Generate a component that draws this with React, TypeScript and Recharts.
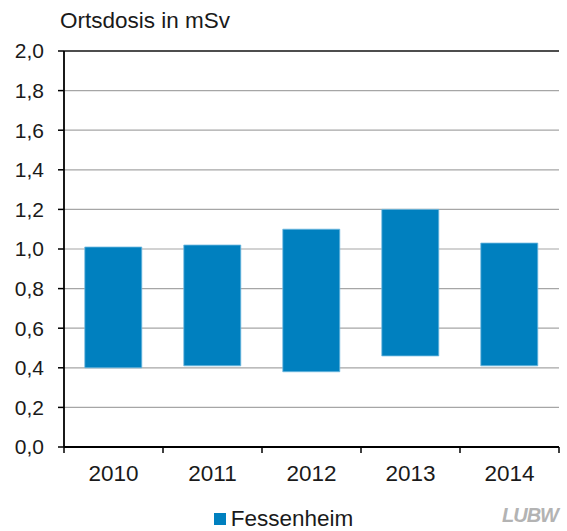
import React from 'react';
import {
  BarChart, Bar, XAxis, YAxis, CartesianGrid, Legend, ReferenceLine
} from 'recharts';

const YEARS = ['2010', '2011', '2012', '2013', '2014'];
const LOW_VALUES = [0.40, 0.41, 0.38, 0.46, 0.41];
const HIGH_VALUES = [1.01, 1.02, 1.10, 1.20, 1.03];
const Y_TICKS = [0, 0.2, 0.4, 0.6, 0.8, 1.0, 1.2, 1.4, 1.6, 1.8, 2.0];
const SERIES_NAME = 'Fessenheim';

const BAR_COLOR = '#0080bf';
const GRID_COLOR = '#a6a6a6';
const FONT = '"Liberation Sans", Arial, sans-serif';
const TEXT_COLOR = '#1a1a1a';

const X_TICK_SIZE = 6;
const X_TICK_MARGIN = 12;

const chartData = YEARS.map((year, i) => ({
  year,
  range: [LOW_VALUES[i], HIGH_VALUES[i]],
}));

const fmt = (v: number) => v.toFixed(1).replace('.', ',');

// category label plus the little tick marks between categories (Excel style)
function YearTick(props: any) {
  const { x, y, payload, index, width, visibleTicksCount } = props;
  const band = width / visibleTicksCount;
  const y2 = y - X_TICK_MARGIN;
  const y1 = y2 - X_TICK_SIZE;
  const left = x - band / 2;
  return (
    <g>
      <line x1={left} x2={left} y1={y1} y2={y2} stroke="#000" strokeWidth={1.5} />
      {index === visibleTicksCount - 1 && (
        <line x1={x + band / 2} x2={x + band / 2} y1={y1} y2={y2} stroke="#000" strokeWidth={1.5} />
      )}
      <text x={x} y={y} dy="0.71em" textAnchor="middle" fontSize={22.5} fill={TEXT_COLOR} fontFamily={FONT}>
        {payload.value}
      </text>
    </g>
  );
}

function LegendContent() {
  return (
    <div style={{ display: 'flex', justifyContent: 'center', alignItems: 'center', height: 24, fontFamily: FONT, fontSize: 22.5, color: TEXT_COLOR }}>
      <span style={{ display: 'inline-block', width: 12, height: 12, background: BAR_COLOR, marginRight: 5, marginLeft: 8 }} />
      <span>{SERIES_NAME}</span>
    </div>
  );
}

export default function App() {
  return (
    <div style={{ position: 'absolute', left: 0, top: 0, width: 567, height: 531, background: '#fff', fontFamily: FONT }}>
      <div style={{ position: 'absolute', left: 60, top: 10, fontSize: 22.5, lineHeight: 1, color: TEXT_COLOR }}>
        Ortsdosis in mSv
      </div>
      <BarChart
        width={567}
        height={531}
        data={chartData}
        margin={{ top: 51, right: 8, left: 0, bottom: 20 }}
        barCategoryGap="21%"
      >
        <CartesianGrid vertical={false} stroke={GRID_COLOR} strokeWidth={1.2} />
        <XAxis
          dataKey="year"
          tickLine={false}
          tickSize={X_TICK_SIZE}
          tickMargin={X_TICK_MARGIN}
          axisLine={{ stroke: '#000', strokeWidth: 1.8 }}
          tick={<YearTick />}
          interval={0}
          height={40}
        />
        <YAxis
          domain={[0, 2]}
          ticks={Y_TICKS}
          tickFormatter={fmt}
          tickSize={6}
          tickMargin={14}
          tickLine={{ stroke: '#000', strokeWidth: 1.5 }}
          axisLine={{ stroke: '#000', strokeWidth: 1.8 }}
          tick={{ fontSize: 21, fill: TEXT_COLOR, fontFamily: FONT }}
          width={64}
          interval={0}
        />
        <YAxis
          yAxisId="right"
          orientation="right"
          domain={[0, 2]}
          tick={false}
          tickLine={false}
          axisLine={{ stroke: GRID_COLOR, strokeWidth: 1.5 }}
          width={0}
        />
        <ReferenceLine y={2} stroke="#222" strokeWidth={1.5} />
        <Legend
          verticalAlign="bottom"
          align="center"
          content={<LegendContent />}
          wrapperStyle={{ bottom: 0, height: 24 }}
        />
        <Bar
          dataKey="range"
          name={SERIES_NAME}
          fill={BAR_COLOR}
          stroke="#6fb9e0"
          strokeWidth={0.8}
          isAnimationActive={false}
        />
      </BarChart>
      <div style={{ position: 'absolute', left: 502, top: 504, fontSize: 20, fontWeight: 'bold', fontStyle: 'italic', color: '#b3b3b3', letterSpacing: -1 }}>
        LUBW
      </div>
    </div>
  );
}
